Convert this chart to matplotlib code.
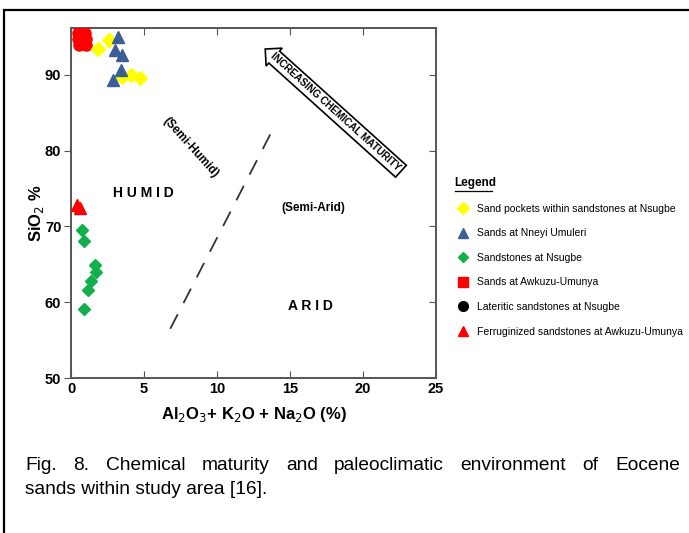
import matplotlib
matplotlib.use("Agg")
import matplotlib.pyplot as plt
from matplotlib.lines import Line2D
from matplotlib.patches import Rectangle

plt.rcParams['font.family'] = ['Liberation Sans', 'DejaVu Sans']

# ---- data ----
sand_pockets_x = [1.85, 2.6, 3.5, 4.1, 4.75]
sand_pockets_y = [93.4, 94.6, 89.7, 90.0, 89.6]

nneyi_x = [3.2, 3.0, 3.5, 3.4, 2.9]
nneyi_y = [95.0, 93.3, 92.6, 90.6, 89.3]

sandstones_x = [0.75, 0.9, 1.65, 1.7, 1.37, 1.17, 0.9]
sandstones_y = [69.5, 68.1, 64.9, 64.0, 62.8, 61.6, 59.1]

awkuzu_x = [0.5, 0.95, 0.45, 1.0, 0.55, 1.05]
awkuzu_y = [95.6, 95.6, 94.7, 94.7, 93.9, 93.9]

lateritic_x = []
lateritic_y = []

ferrug_x = [0.4, 0.65]
ferrug_y = [72.9, 72.4]

boundary_x = [6.8, 13.9]
boundary_y = [56.5, 83.1]

legend_labels = [
    "Sand pockets within sandstones at Nsugbe",
    "Sands at Nneyi Umuleri",
    "Sandstones at Nsugbe",
    "Sands at Awkuzu-Umunya",
    "Lateritic sandstones at Nsugbe",
    "Ferruginized sandstones at Awkuzu-Umunya",
]
x_ticks = [0, 5, 10, 15, 20, 25]
y_ticks = [50, 60, 70, 80, 90]
caption_line1 = "Fig. 8. Chemical maturity and paleoclimatic environment of Eocene"
caption_line2 = "sands within study area [16]."

# ---- figure ----
fig = plt.figure(figsize=(6.89, 5.33), dpi=100)
fig.patch.set_facecolor('white')

# outer frame (cropped at right/bottom)
fig.patches.append(Rectangle((4/689, -0.2), 1.2, 1 - 10/533 + 0.2,
                             transform=fig.transFigure, fill=False,
                             ec='black', lw=1.6, zorder=0))

ax = fig.add_axes([71/689, 1 - 378/533, (436 - 71)/689, (378 - 28)/533])
ax.set_xlim(0, 25)
ax.set_ylim(50, 96.2)

for s in ax.spines.values():
    s.set_color('#555555')
    s.set_linewidth(1.4)

ax.set_xticks(x_ticks)
ax.set_yticks(y_ticks)
ax.tick_params(axis='x', direction='in', top=True, length=5, color='#555555',
               labelsize=10.5, pad=3)
ax.tick_params(axis='y', direction='out', length=5, color='#555555',
               labelsize=10.5, pad=2)
for lab in ax.get_xticklabels() + ax.get_yticklabels():
    lab.set_fontweight('bold')
# right-side inward ticks
axr = ax.twinx()
axr.set_ylim(ax.get_ylim())
axr.set_yticks(y_ticks)
axr.tick_params(axis='y', direction='in', length=5, color='#555555', labelright=False)
for s in axr.spines.values():
    s.set_visible(False)

ax.set_xlabel("Al$_2$O$_3$+ K$_2$O + Na$_2$O (%)", fontsize=12, fontweight='bold', labelpad=6)
ax.set_ylabel("SiO$_2$ %", fontsize=12, fontweight='bold', labelpad=0)
ax.yaxis.set_label_coords(-25/365, 0.47)

c_yellow = '#FFFF00'
c_blue = '#3A5E96'
c_green = '#12B04C'
c_red = '#FF0000'

ax.plot(awkuzu_x, awkuzu_y, ls='none', marker='o', ms=8, color=c_red, mec=c_red, zorder=3)
ax.plot(sand_pockets_x, sand_pockets_y, ls='none', marker='D', ms=7, color=c_yellow, mec=c_yellow, zorder=3)
ax.plot(nneyi_x, nneyi_y, ls='none', marker='^', ms=8, color=c_blue, mec=c_blue, zorder=4)
ax.plot(sandstones_x, sandstones_y, ls='none', marker='D', ms=6, color=c_green, mec=c_green, zorder=3)
ax.plot(ferrug_x, ferrug_y, ls='none', marker='^', ms=8, color=c_red, mec=c_red, zorder=3)
ax.plot(lateritic_x, lateritic_y, ls='none', marker='o', ms=8, color='black')

ax.plot(boundary_x, boundary_y, color='#333333', lw=1.3, dashes=(9, 7))

ax.text(4.95, 74.4, "H U M I D", fontsize=10, fontweight='bold', ha='center', va='center')
ax.text(16.4, 59.5, "A R I D", fontsize=10, fontweight='bold', ha='center', va='center')
ax.text(8.2, 80.4, "(Semi-Humid)", fontsize=8.5, fontweight='bold', ha='center', va='center', rotation=-48)
ax.text(16.6, 72.4, "(Semi-Arid)", fontsize=8.5, fontweight='bold', ha='center', va='center')
ax.text(18.1, 85.1, "INCREASING CHEMICAL MATURITY", fontsize=7.2, fontweight='bold',
        ha='center', va='center', rotation=-42, rotation_mode='anchor',
        bbox=dict(boxstyle='larrow,pad=0.3', fc='white', ec='black', lw=1.2))

# legend
handles = [
    Line2D([], [], ls='none', marker='D', ms=6, color=c_yellow, mec=c_yellow),
    Line2D([], [], ls='none', marker='^', ms=7, color=c_blue, mec=c_blue),
    Line2D([], [], ls='none', marker='D', ms=5, color=c_green, mec=c_green),
    Line2D([], [], ls='none', marker='s', ms=7, color=c_red, mec=c_red),
    Line2D([], [], ls='none', marker='o', ms=7, color='black', mec='black'),
    Line2D([], [], ls='none', marker='^', ms=7, color=c_red, mec=c_red),
]
leg = fig.legend(handles, legend_labels, loc='upper left', bbox_to_anchor=(450/689, 1 - 173/533),
                 frameon=False, fontsize=7.5, title="Legend", handletextpad=0.6,
                 handlelength=1.6, labelspacing=1.4, alignment='left', borderaxespad=0)
leg.get_title().set_fontweight('bold')
leg.get_title().set_fontsize(8.5)
fig.add_artist(Line2D([455/689, 492/689], [1 - 191/533, 1 - 191/533],
                      transform=fig.transFigure, color='black', lw=0.9))

# caption: first line justified between x=25 and x=680 px
cap_size = 13.8
renderer = fig.canvas.get_renderer()
words = caption_line1.split(" ")
widths = []
for w in words:
    t = fig.text(0, 0, w, fontsize=cap_size)
    widths.append(t.get_window_extent(renderer).width)
    t.remove()
left_px, right_px = 25, 680
gap = (right_px - left_px - sum(widths)) / (len(words) - 1)
xpos = left_px
for w, wd in zip(words, widths):
    fig.text(xpos / 689, 1 - 466/533, w, fontsize=cap_size, va='center', ha='left')
    xpos += wd + gap
fig.text(25/689, 1 - 490/533, caption_line2, fontsize=cap_size, va='center', ha='left')

fig.savefig("out.png", dpi=100, facecolor='white')
